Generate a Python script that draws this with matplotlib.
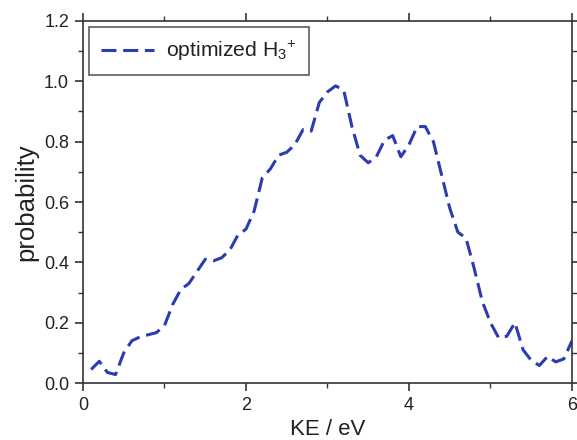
import matplotlib
matplotlib.use("Agg")
import matplotlib.pyplot as plt
from matplotlib.ticker import MultipleLocator

plt.rcParams['font.family'] = ['Liberation Sans', 'DejaVu Sans']
plt.rcParams['mathtext.fontset'] = 'custom'
plt.rcParams['mathtext.rm'] = 'Liberation Sans'
plt.rcParams['mathtext.it'] = 'Liberation Sans:italic'
plt.rcParams['mathtext.bf'] = 'Liberation Sans:bold'

ke = [0.1, 0.2, 0.3, 0.4, 0.5, 0.6, 0.7, 0.8, 0.9, 1.0,
      1.1, 1.2, 1.3, 1.4, 1.5, 1.6, 1.7, 1.8, 1.9, 2.0,
      2.1, 2.2, 2.3, 2.4, 2.5, 2.6, 2.7, 2.8, 2.9, 3.0,
      3.1, 3.2, 3.3, 3.4, 3.5, 3.6, 3.7, 3.8, 3.9, 4.0,
      4.1, 4.2, 4.3, 4.4, 4.5, 4.6, 4.7, 4.8, 4.9, 5.0,
      5.1, 5.2, 5.3, 5.4, 5.5, 5.6, 5.7, 5.8, 5.9, 6.0]
prob = [0.045, 0.072, 0.035, 0.028, 0.10, 0.14, 0.153, 0.16, 0.167, 0.19,
        0.26, 0.31, 0.33, 0.37, 0.41, 0.405, 0.415, 0.44, 0.49, 0.51,
        0.57, 0.68, 0.71, 0.755, 0.765, 0.79, 0.84, 0.835, 0.93, 0.965,
        0.985, 0.97, 0.85, 0.755, 0.73, 0.75, 0.805, 0.82, 0.75, 0.79,
        0.85, 0.85, 0.80, 0.69, 0.58, 0.50, 0.48, 0.38, 0.27, 0.20,
        0.15, 0.155, 0.20, 0.11, 0.075, 0.058, 0.088, 0.07, 0.08, 0.14]
yticks = [0.0, 0.2, 0.4, 0.6, 0.8, 1.0, 1.2]
yticklabels = ['0.0', '0.2', '0.4', '0.6', '0.8', '1.0', '1.2']

fig = plt.figure(figsize=(5.77, 4.4), dpi=100)
ax = fig.add_axes([0.1438, 0.1295, 0.8475, 0.8228])

ax.plot(ke, prob, color='#2b3bb0', lw=2.2, dashes=(4.9, 2.2),
        label='optimized H$_{\\mathrm{3}}$$^{\\mathrm{+}}$')

ax.set_xlim(0, 6)
ax.set_ylim(0, 1.2)
ax.xaxis.set_major_locator(MultipleLocator(2))
ax.xaxis.set_minor_locator(MultipleLocator(1))
ax.yaxis.set_minor_locator(MultipleLocator(0.1))
ax.set_yticks(yticks)
ax.set_yticklabels(yticklabels)

ax.tick_params(which='both', direction='out', top=True, right=True,
               labeltop=False, labelright=False, labelsize=13, color='#333333',
               labelcolor='#222222')
ax.tick_params(which='major', length=6, width=1.2, pad=4)
ax.tick_params(which='minor', length=3.5, width=1.0)
for s in ax.spines.values():
    s.set_linewidth(1.2)
    s.set_color('#333333')

ax.set_xlabel('KE / eV', fontsize=16, labelpad=4, color='#222222')
ax.set_ylabel('probability', fontsize=18.5, labelpad=4, color='#222222')

leg = ax.legend(loc='upper left', fontsize=15.2, frameon=True, fancybox=False,
                edgecolor='#333333', handlelength=2.5, handletextpad=0.6,
                borderaxespad=0.3, borderpad=0.55)
leg.get_frame().set_linewidth(1.2)
for t in leg.get_texts():
    t.set_color('#222222')

fig.savefig('out.png', dpi=100)
